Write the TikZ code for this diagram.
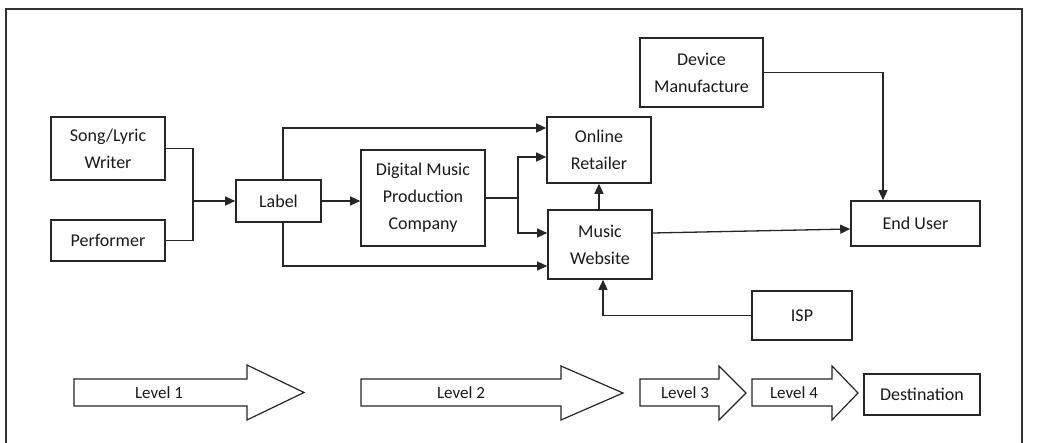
\documentclass[tikz,border=0pt]{standalone}
\usepackage{fontspec}
\setmainfont{Carlito}
\usetikzlibrary{arrows.meta}
\begin{document}
\begin{tikzpicture}[x=1pt,y=-1pt,
  box/.style={draw=black!85, line width=1.6pt, inner sep=0pt, align=center,
    font=\fontsize{18}{27}\selectfont, text=black!90},
  conn/.style={draw=black!85, line width=1.3pt},
  arr/.style={conn, -{Triangle[length=10pt,width=9pt]}},
  lvl/.style={draw=black!85, line width=1.2pt, fill=white, line join=miter},
  lvltext/.style={font=\fontsize{17}{20}\selectfont, text=black!90},
  frame/.style={draw=black!80, line width=1.2pt}]
\useasboundingbox (0,0) rectangle (1050,443);
\draw[frame] (6,443) -- (6,9) -- (1022,9) -- (1022,443);

\node[box, minimum width=114pt, minimum height=63pt] (song) at (108,148.5) {Song/Lyric\\Writer};
\node[box, minimum width=114pt, minimum height=41pt] (perf) at (108,240.5) {Performer};
\node[box, minimum width=85pt, minimum height=42pt] (label) at (278.5,201) {Label};
\node[box, minimum width=124pt, minimum height=96pt] (dmpc) at (423,198) {Digital Music\\Production\\Company};
\node[box, minimum width=104pt, minimum height=66pt] (online) at (599,150) {Online\\Retailer};
\node[box, minimum width=104pt, minimum height=69pt] (music) at (600,244.5) {Music\\Website};
\node[box, minimum width=123pt, minimum height=69pt] (device) at (701.5,72.5) {Device\\Manufacture};
\node[box, minimum width=129pt, minimum height=45pt] (enduser) at (915.5,223.5) {End User};
\node[box, minimum width=100pt, minimum height=49pt] (isp) at (802,315.5) {ISP};
\node[box, minimum width=116pt, minimum height=41pt] (dest) at (922,394.5) {Destination};

\coordinate (j) at (193,201);
\coordinate (k) at (518,198);
\draw[conn] (song.east) -| (j);
\draw[conn] (perf.east) -| (j);
\draw[arr] (j) -- (label.west);
\draw[arr] (label.east) -- (label.east -| dmpc.west);
\draw[arr] ([xshift=4.5pt]label.north) |- ([yshift=22pt]online.west);
\draw[arr] ([xshift=4.5pt]label.south) |- ([yshift=-21.5pt]music.west);
\draw[conn] (dmpc.east) -- (k);
\draw[arr] (k) |- ([yshift=-7pt]online.west);
\draw[arr] (k) |- ([yshift=11.5pt]music.west);
\draw[arr] ([xshift=-1pt]music.north) -- ([xshift=-1pt]music.north |- online.south);
\draw[arr] (device.east) -| ([xshift=-32.5pt]enduser.north);
\draw[arr] ([yshift=11.5pt]music.east) -- ([yshift=-5.5pt]enduser.west);
\draw[arr] (isp.west) -| ([xshift=3pt]music.south);

% level arrows
\draw[lvl] (74,379) -- (247,379) -- (247,365) -- (304,392.5) -- (247,420) -- (247,406) -- (74,406) -- cycle;
\node[lvltext] (l1) at (159,393) {Level 1};
\draw[lvl] (361,379) -- (561,379) -- (561,366) -- (623,393) -- (561,420) -- (561,406) -- (361,406) -- cycle;
\node[lvltext] (l2) at (461,393) {Level 2};
\draw[lvl] (640,379) -- (719,379) -- (719,366) -- (746,393) -- (719,420) -- (719,406) -- (640,406) -- cycle;
\node[lvltext] (l3) at (685,393) {Level 3};
\draw[lvl] (752,379) -- (832,379) -- (832,366) -- (858,393) -- (832,420) -- (832,406) -- (752,406) -- cycle;
\node[lvltext] (l4) at (794,393) {Level 4};
\end{tikzpicture}
\end{document}
